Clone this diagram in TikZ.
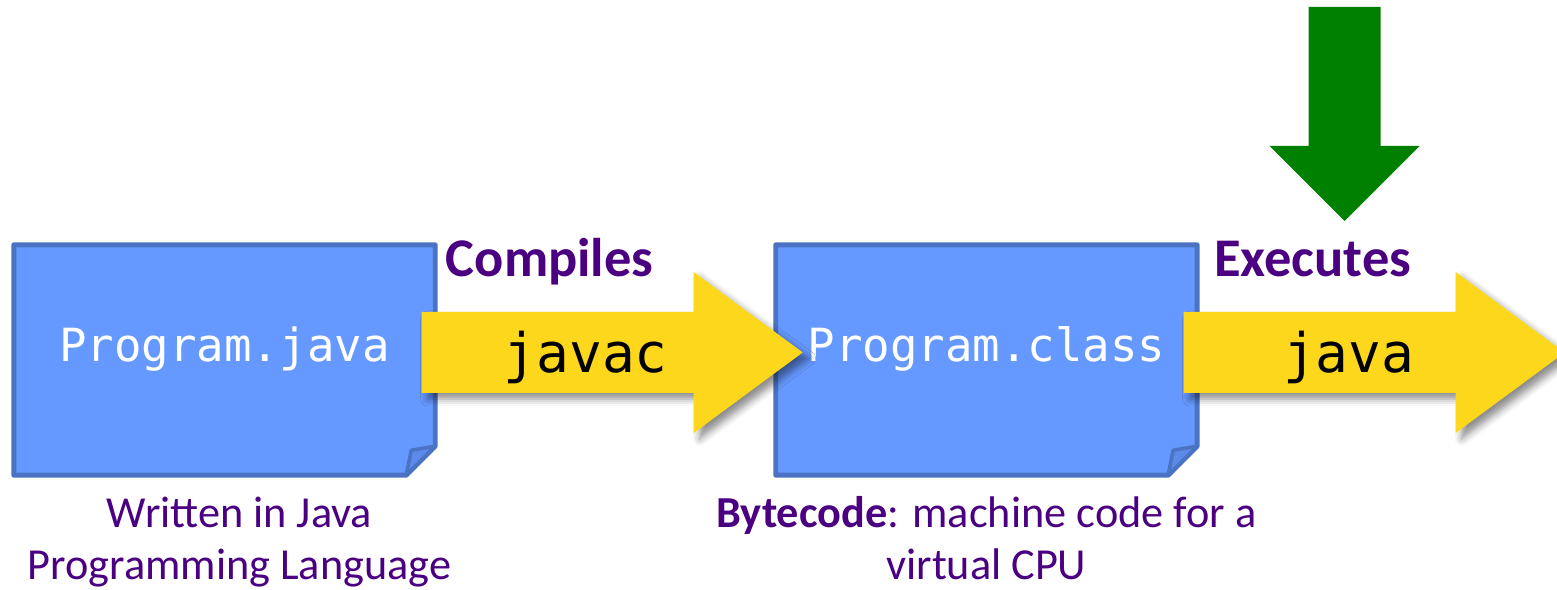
\documentclass[tikz,border=0pt]{standalone}
\usepackage{fontspec}
\setmonofont{DejaVu Sans Mono}
\newfontfamily\calib{Carlito}
\usepackage{xcolor}
\usetikzlibrary{shadows.blur,positioning,calc}
\definecolor{docblue}{HTML}{6699FF}
\definecolor{docedge}{HTML}{4A73C4}
\definecolor{docfold}{HTML}{5C8AE8}
\definecolor{gold}{HTML}{FDD71B}
\definecolor{rungreen}{HTML}{008000}
\definecolor{indigo}{HTML}{4B0082}

\begin{document}
\begin{tikzpicture}[
  doc/.style={rectangle, minimum width=4.2cm, minimum height=2.29cm, inner sep=0pt},
  docline/.style={draw=docedge, fill=docblue, line width=1.4pt, line join=round},
  fname/.style={font=\ttfamily\fontsize{13}{15}\selectfont, text=white, anchor=base, inner sep=0pt},
  tool/.style={font=\ttfamily\fontsize{15.5}{18}\selectfont, anchor=base, inner sep=0pt},
  yarrow/.style={fill=gold, blur shadow={shadow xshift=0.6mm, shadow yshift=-0.6mm,
                 shadow blur radius=0.7mm, shadow opacity=45}},
  verb/.style={font=\calib\bfseries\fontsize{15.5}{18}\selectfont, text=indigo, anchor=base, inner sep=0pt},
  note/.style={font=\calib\fontsize{12.6}{14.8}\selectfont, text=indigo, align=center, anchor=base, inner sep=0pt}
]
  \useasboundingbox (0,0) rectangle (15.57,5.89);

  \node[doc] (src) at (2.245,2.29) {};
  \node[doc, right=3.405cm of src] (cls) {};
  \foreach \d in {src,cls}{
    \draw[docline] (\d.north west) -- (\d.north east) -- ([yshift=2.9mm]\d.south east)
      -- ([xshift=-2.9mm]\d.south east) -- (\d.south west) -- cycle;
    \draw[docline, fill=docfold, line width=1pt] ([xshift=-2.9mm]\d.south east)
      -- ([xshift=-2.4mm,yshift=2.5mm]\d.south east) -- ([yshift=2.9mm]\d.south east) -- cycle;
  }
  \node[fname] (srcname) at ([yshift=-0.2mm]src.center) {Program.java};
  \node[fname] (clsname) at ([yshift=-0.2mm]cls.center) {Program.class};

  % block arrows start just inside each file box
  \coordinate (javac) at ([xshift=-1.35mm,yshift=0.75mm]src.east);
  \coordinate (java) at ([xshift=-1.35mm,yshift=0.75mm]cls.east);
  \foreach \a in {javac,java}
    \fill[yarrow] ([yshift=4.05mm]\a) -- ++(2.72,0) -- ++(0,0.4) -- ++(1.09,-0.805)
      -- ++(-1.09,-0.805) -- ++(0,0.4) -- ++(-2.72,0) -- cycle;
  \node[tool] (javactxt) at ([xshift=1.64cm,yshift=-1.95mm]javac) {javac};
  \node[tool] (javatxt) at ([xshift=1.65cm,yshift=-1.95mm]java) {java};

  \node[verb] (compiles) at ([xshift=1.28cm,yshift=7.55mm]javac) {Compiles};
  \node[verb] (executes) at ([xshift=1.29cm,yshift=7.55mm]java) {Executes};

  \coordinate (start) at ([xshift=3.2mm,yshift=27mm]executes.base);
  \fill[rungreen] ([xshift=-3.6mm]start) -- ++(0,-1.39) -- ++(-0.39,0) -- ++(0.75,-0.75)
    -- ++(0.75,0.75) -- ++(-0.39,0) -- ++(0,1.39) -- cycle;

  \node[note] (srcnote) at ([xshift=1.5mm,yshift=-10.45mm]src.south) {Written in Java\\Programming Language};
  \node[note] (clsnote) at ([yshift=-10.45mm]cls.south) {\textbf{Bytecode}: machine code for a\\virtual CPU};
\end{tikzpicture}
\end{document}
